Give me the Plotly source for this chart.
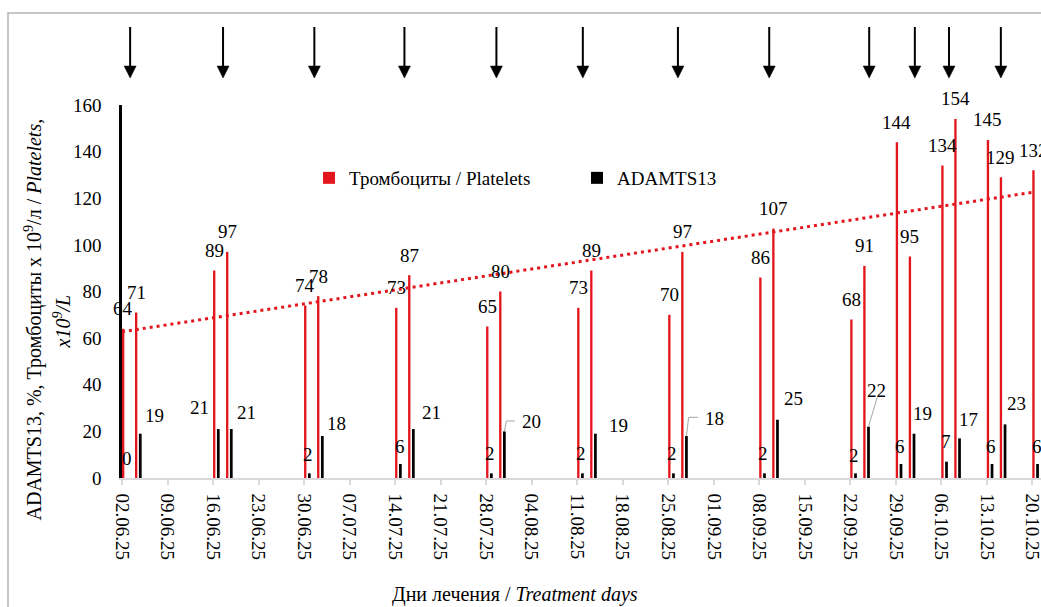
import numpy as np
import pandas as pd
import plotly.graph_objects as go

# ---------------- data ----------------
DATES = ["2025-06-02", "2025-06-04", "2025-06-16", "2025-06-18", "2025-06-30",
         "2025-07-02", "2025-07-14", "2025-07-16", "2025-07-28", "2025-07-30",
         "2025-08-11", "2025-08-13", "2025-08-25", "2025-08-27", "2025-09-08",
         "2025-09-10", "2025-09-22", "2025-09-24", "2025-09-29", "2025-10-01",
         "2025-10-06", "2025-10-08", "2025-10-13", "2025-10-15", "2025-10-20"]
PLATELETS = [64, 71, 89, 97, 74, 78, 73, 87, 65, 80, 73, 89, 70, 97, 86, 107,
             68, 91, 144, 95, 134, 154, 145, 129, 132]
ADAMTS13 = [0, 19, 21, 21, 2, 18, 6, 21, 2, 20, 2, 19, 2, 18, 2, 25,
            2, 22, 6, 19, 7, 17, 6, 23, 6]

TICK_DATES = ["2025-06-02", "2025-06-09", "2025-06-16", "2025-06-23", "2025-06-30",
              "2025-07-07", "2025-07-14", "2025-07-21", "2025-07-28", "2025-08-04",
              "2025-08-11", "2025-08-18", "2025-08-25", "2025-09-01", "2025-09-08",
              "2025-09-15", "2025-09-22", "2025-09-29", "2025-10-06", "2025-10-13",
              "2025-10-20"]
TICK_LABELS = ["02.06.25", "09.06.25", "16.06.25", "23.06.25", "30.06.25",
               "07.07.25", "14.07.25", "21.07.25", "28.07.25", "04.08.25",
               "11.08.25", "18.08.25", "25.08.25", "01.09.25", "08.09.25",
               "15.09.25", "22.09.25", "29.09.25", "06.10.25", "13.10.25",
               "20.10.25"]
Y_TICKS = [0, 20, 40, 60, 80, 100, 120, 140, 160]

# treatment markers (arrows on top)
ARROW_DATES = ["2025-06-03 06:00", "2025-06-17 13:00", "2025-07-01 14:00",
               "2025-07-15 10:30", "2025-07-29 14:00", "2025-08-11 21:00",
               "2025-08-26 12:00", "2025-09-09 13:00", "2025-09-24 22:00",
               "2025-10-01 22:30", "2025-10-07 04:30", "2025-10-15 04:00"]

SERIES_NAMES = ["Тромбоциты / Platelets", "ADAMTS13"]

# ---------------- styling / label placement (pixels) ----------------
FONT = "Liberation Serif"
RED = "#e3161d"
BLACK = "#000000"
DAY_MS = 86400000
RED_OFFSET_D, RED_WIDTH_D = 0.0, 0.36
BLK_OFFSET_D, BLK_WIDTH_D = 0.60, 0.42

ADAMTS_DX = [0, 14, -19, 15, -1, 14, 0, 18, -1, 27, -1, 23, -1, 28, -1, 16,
             -1, 8, -1, 8, -1, 9, -1, 11, -1]
ADAMTS_DY = [20, 18, 22, 17, 19, 13, 18, 17, 20, 10, 20, 8, 20, 18, 20, 21,
             18, 36, 18, 20, 20, 19, 18, 21, 18]
LEADERS = {9: "M0,0 L2,10.4 L10.5,10.4", 13: "M0,0 L2.2,18.7 L11.8,18.7",
           17: "M0,0 L8.7,29.3"}

L, T, W, H = 122, 105, 1041, 607
PW = W - L            # plot width in px (919)
PH = 373              # plot height in px

dates = pd.to_datetime(DATES)
red_centers = dates + pd.Timedelta(days=RED_OFFSET_D + RED_WIDTH_D / 2)
blk_centers = dates + pd.Timedelta(days=BLK_OFFSET_D + BLK_WIDTH_D / 2)

fig = go.Figure()
fig.add_trace(go.Bar(
    x=DATES, y=PLATELETS, name=SERIES_NAMES[0], marker_color=RED,
    marker_line_width=0, width=RED_WIDTH_D * DAY_MS, offset=RED_OFFSET_D * DAY_MS,
))
fig.add_trace(go.Bar(
    x=DATES, y=ADAMTS13, name=SERIES_NAMES[1], marker_color=BLACK,
    marker_line_width=0, width=BLK_WIDTH_D * DAY_MS, offset=BLK_OFFSET_D * DAY_MS,
))

# linear trend of platelets
days = np.array([(d - dates[0]).days for d in dates], dtype=float)
slope, intercept = np.polyfit(days, np.array(PLATELETS, dtype=float), 1)
trend_x = [dates[0], dates[-1]]
trend_y = [intercept + slope * days[0], intercept + slope * days[-1]]
fig.add_trace(go.Scatter(
    x=trend_x, y=trend_y, mode="lines", showlegend=False, hoverinfo="skip",
    line=dict(color=RED, width=3, dash="3px,4px"),
))

annotations = []
for xc, v in zip(red_centers, PLATELETS):
    annotations.append(dict(x=xc, y=v, xref="x", yref="y", text=str(v),
                            showarrow=False, yshift=20, xanchor="center",
                            yanchor="middle", font=dict(size=19, color="black")))
for i, (xc, v) in enumerate(zip(blk_centers, ADAMTS13)):
    annotations.append(dict(x=xc, y=v, xref="x", yref="y", text=str(v),
                            showarrow=False, xshift=ADAMTS_DX[i], yshift=ADAMTS_DY[i],
                            xanchor="center", yanchor="middle",
                            font=dict(size=19, color="black")))
# axis titles
annotations.append(dict(x=(515 - L) / PW, y=0, xref="paper", yref="paper",
                        yshift=-116, showarrow=False, xanchor="center", yanchor="middle",
                        text="Дни лечения / <i>Treatment days</i>",
                        font=dict(size=20, color="black")))
annotations.append(dict(x=0, y=0.5, xref="paper", yref="paper", xshift=-89, yshift=-28,
                        showarrow=False, textangle=-90, xanchor="center", yanchor="middle",
                        text="ADAMTS13, %, Тромбоциты х 10<sup>9</sup>/л / <i>Platelets,</i>",
                        font=dict(size=20, color="black")))
annotations.append(dict(x=0, y=0.5, xref="paper", yref="paper", xshift=-61, yshift=-30,
                        showarrow=False, textangle=-90, xanchor="center", yanchor="middle",
                        text="<i>x10<sup>9</sup>/L</i>",
                        font=dict(size=20, color="black")))

shapes = [dict(type="rect", xref="paper", yref="paper", x0=(8 - L) / PW, x1=1.2,
               y0=-0.6, y1=1 + (T - 13) / PH, line=dict(color="#b4b4b4", width=1.5),
               layer="below")]
for i, p in LEADERS.items():
    shapes.append(dict(type="path", xref="x", yref="y", xsizemode="pixel", ysizemode="pixel",
                       xanchor=blk_centers[i], yanchor=ADAMTS13[i], path=p,
                       line=dict(color="#a6a6a6", width=1)))
# arrows above the plot (shaft + filled head), pixel sized, anchored at plot top
for ad in ARROW_DATES:
    shapes.append(dict(type="path", xref="x", yref="paper", xsizemode="pixel",
                       ysizemode="pixel", xanchor=ad, yanchor=1, path="M0,38 L0,78",
                       line=dict(color="black", width=2)))
    shapes.append(dict(type="path", xref="x", yref="paper", xsizemode="pixel",
                       ysizemode="pixel", xanchor=ad, yanchor=1,
                       path="M-6,39 L6,39 L0,27 Z", fillcolor="black",
                       line=dict(color="black", width=0.5)))

x_end = dates[0] + pd.Timedelta(days=PW / 6.502)

fig.update_layout(
    width=W, height=H,
    margin=dict(l=L, r=0, t=T, b=H - T - PH, autoexpand=False),
    paper_bgcolor="white", plot_bgcolor="white",
    font=dict(family=FONT, size=19, color="black"),
    barmode="overlay",
    showlegend=True,
    legend=dict(orientation="h", x=(309 - L) / PW, y=1 + (T - 178) / PH,
                xanchor="left", yanchor="middle", font=dict(family=FONT, size=19),
                entrywidth=223, entrywidthmode="pixels",
                bgcolor="rgba(0,0,0,0)", traceorder="normal"),
    annotations=annotations,
    shapes=shapes,
    xaxis=dict(type="date", range=[dates[0], x_end], tickvals=TICK_DATES,
               ticktext=TICK_LABELS, tickangle=90, ticks="outside", ticklen=5,
               tickcolor="#d9d9d9", tickwidth=1.5, showline=True, linecolor="#d9d9d9",
               linewidth=1.5, showgrid=False, zeroline=False, ticklabelstandoff=5,
               ticklabeloverflow="allow", automargin=False,
               tickfont=dict(family=FONT, size=19)),
    yaxis=dict(range=[0, 160], tickvals=Y_TICKS, showgrid=False, zeroline=False,
               showline=True, linecolor="black", linewidth=2.5, ticks="",
               automargin=False, ticklabelstandoff=14,
               tickfont=dict(family=FONT, size=19)),
)

fig.write_html("out.html", config={"displayModeBar": False},
               post_script="document.body.style.margin='0';"
                           "document.body.style.overflow='hidden';")
